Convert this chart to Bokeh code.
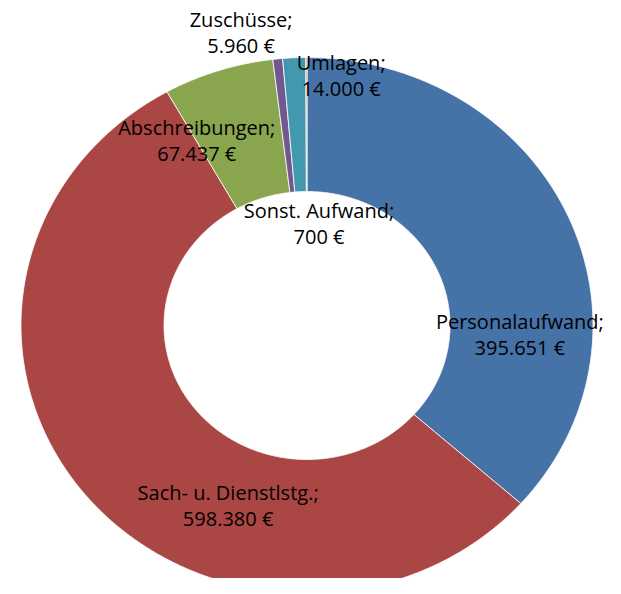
import math
from bokeh.plotting import figure
from bokeh.models import ColumnDataSource, Range1d
from bokeh.core.properties import value
from bokeh.embed import file_html
from bokeh.resources import INLINE

# ---- data ----
categories = ["Personalaufwand", "Sach- u. Dienstlstg.", "Abschreibungen",
              "Zuschüsse", "Umlagen", "Sonst. Aufwand"]
amounts = [395651, 598380, 67437, 5960, 14000, 700]
colors = ["#4572A7", "#AA4643", "#89A54E", "#71588F", "#4198AF", "#DB843D"]

# ---- label layout (polar: angle clockwise from top in degrees, radius as fraction of outer) ----
label_angle = [92.6, 202.3, 330.8, 348.1, 7.3, 6.3]
label_radius = [0.745, 0.727, 0.79, 1.117, 0.941, 0.382]

INNER = 0.5
OUTER = 1.0

W, H = 605, 578
RX, RY = 286.0, 268.0
CX, CY = 306.5, 325.0
p = figure(width=W, height=H, output_backend="svg", toolbar_location=None,
           min_border=0, outline_line_color=None)
p.x_range = Range1d(-CX / RX, (W - CX) / RX)
p.y_range = Range1d((CY - H) / RY, CY / RY)
p.axis.visible = False
p.grid.visible = False
p.background_fill_color = "white"
p.border_fill_color = "white"

total = float(sum(amounts))
xs, ys = [], []
start = 0.0
for a in amounts:
    span = a / total * 2 * math.pi
    end = start + span
    n = max(2, int(span / (2 * math.pi) * 720) + 2)
    outer = [start + (end - start) * i / (n - 1) for i in range(n)]
    px = [OUTER * math.sin(t) for t in outer] + [INNER * math.sin(t) for t in reversed(outer)]
    py = [OUTER * math.cos(t) for t in outer] + [INNER * math.cos(t) for t in reversed(outer)]
    xs.append(px)
    ys.append(py)
    start = end

src = ColumnDataSource(dict(xs=xs, ys=ys, color=colors))
p.patches("xs", "ys", source=src, fill_color="color", line_color="white", line_width=0.8)

def fmt(v):
    return f"{v:,}".replace(",", ".") + " €"

lx = [r * math.sin(math.radians(a)) for a, r in zip(label_angle, label_radius)]
ly = [r * math.cos(math.radians(a)) for a, r in zip(label_angle, label_radius)]
line1 = [c + ";" for c in categories]
line2 = [fmt(v) for v in amounts]

lsrc = ColumnDataSource(dict(x=lx, y=ly, t1=line1, t2=line2))
common = dict(text_font=value("Open Sans"), text_font_size="20px", text_color="black",
              text_align="center", text_baseline="middle")
p.text("x", "y", text="t1", source=lsrc, y_offset=-13, **common)
p.text("x", "y", text="t2", source=lsrc, y_offset=13, **common)

open("out.html", "w").write(file_html(p, INLINE))
